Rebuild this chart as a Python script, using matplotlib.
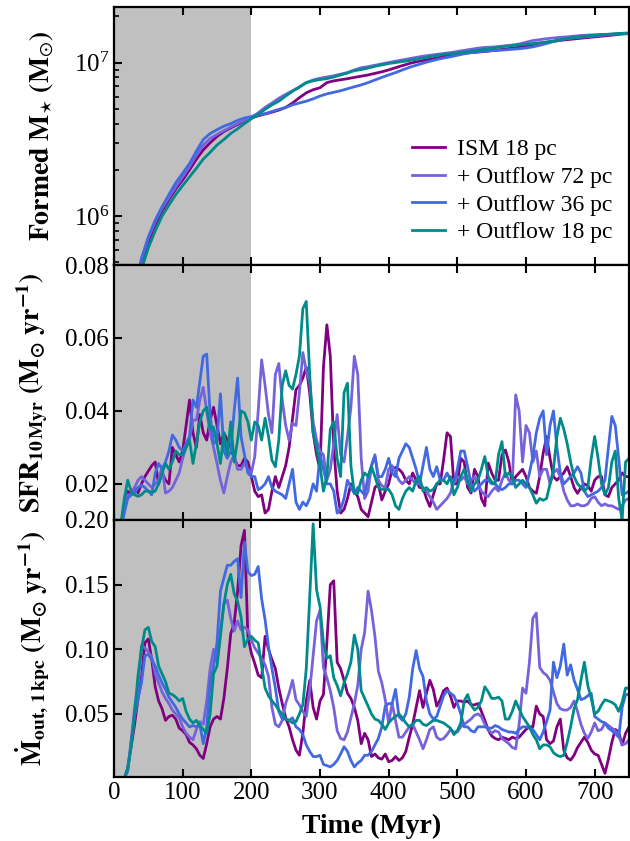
import numpy as np
import matplotlib
matplotlib.use("Agg")
import matplotlib.pyplot as plt
from matplotlib.ticker import NullFormatter, FormatStrFormatter, LogLocator

plt.rcParams['font.family'] = 'serif'
plt.rcParams['font.serif'] = ['Liberation Serif', 'DejaVu Serif']
plt.rcParams['mathtext.fontset'] = 'stix'

labels = ['ISM 18 pc', '+ Outflow 72 pc', '+ Outflow 36 pc', '+ Outflow 18 pc']
colors = ['#800080', '#7662DA', '#4169E1', '#008B8B']

# ---- time grids (Myr)
time_mass = np.arange(30, 751, 10)
time = np.arange(10, 751, 5)

# ---- Formed stellar mass (units of 1e6 Msun)
mass_ism18 = [0.32, 0.50, 0.68, 0.88, 1.08, 1.28, 1.50, 1.72, 2.00, 2.35,
              2.70, 3.00, 3.30, 3.55, 3.75, 3.95, 4.15, 4.35, 4.50, 4.62,
              4.75, 4.90, 5.10, 5.45, 5.90, 6.35, 6.65, 6.85, 7.40, 7.60,
              7.72, 7.85, 8.00, 8.15, 8.30, 8.50, 8.70, 8.95, 9.25, 9.55,
              9.85, 10.1, 10.3, 10.5, 10.7, 10.95, 11.2, 11.35, 11.5, 11.6,
              11.7, 11.8, 11.95, 12.1, 12.25, 12.4, 12.6, 12.85, 13.1, 13.3,
              13.55, 13.75, 13.95, 14.1, 14.25, 14.4, 14.55, 14.7, 14.85, 15.0,
              15.15, 15.35, 15.5]
mass_out72 = [0.33, 0.52, 0.72, 0.92, 1.12, 1.32, 1.55, 1.80, 2.10, 2.50,
              2.90, 3.20, 3.40, 3.60, 3.80, 4.00, 4.20, 4.40, 4.70, 5.10,
              5.45, 5.85, 6.20, 6.55, 6.95, 7.40, 7.70, 7.90, 8.05, 8.20,
              8.40, 8.60, 8.95, 9.25, 9.40, 9.60, 9.80, 10.0, 10.2, 10.4,
              10.6, 10.8, 11.0, 11.15, 11.3, 11.45, 11.6, 11.8, 12.0, 12.2,
              12.4, 12.55, 12.6, 12.7, 12.85, 13.0, 13.2, 13.55, 13.9, 14.1,
              14.3, 14.45, 14.6, 14.7, 14.85, 15.0, 15.1, 15.15, 15.2, 15.25,
              15.3, 15.35, 15.4]
mass_out36 = [0.34, 0.53, 0.73, 0.94, 1.15, 1.38, 1.65, 1.90, 2.20, 2.65,
              3.15, 3.45, 3.65, 3.85, 4.00, 4.20, 4.35, 4.45, 4.55, 4.65,
              4.80, 4.95, 5.10, 5.30, 5.45, 5.60, 5.80, 6.05, 6.25, 6.40,
              6.55, 6.75, 6.95, 7.15, 7.40, 7.70, 8.00, 8.30, 8.60, 8.95,
              9.30, 9.60, 9.90, 10.2, 10.45, 10.7, 10.9, 11.15, 11.4, 11.6,
              11.75, 11.85, 11.95, 12.0, 12.1, 12.2, 12.3, 12.45, 12.65, 12.95,
              13.3, 13.7, 14.0, 14.3, 14.45, 14.6, 14.75, 14.9, 15.05, 15.2,
              15.35, 15.45, 15.5]
mass_out18 = [0.28, 0.45, 0.62, 0.80, 1.00, 1.18, 1.38, 1.58, 1.80, 2.05,
              2.35, 2.60, 2.90, 3.15, 3.45, 3.70, 4.00, 4.30, 4.60, 4.95,
              5.30, 5.60, 6.05, 6.50, 6.90, 7.40, 7.60, 7.75, 7.85, 8.05,
              8.30, 8.55, 8.85, 9.00, 9.20, 9.45, 9.65, 9.85, 10.0, 10.15,
              10.3, 10.5, 10.7, 10.9, 11.1, 11.3, 11.4, 11.5, 11.7, 11.85,
              12.0, 12.2, 12.35, 12.6, 12.75, 12.9, 13.0, 13.15, 13.3, 13.45,
              13.6, 13.8, 14.1, 14.4, 14.6, 14.75, 14.9, 15.1, 15.2, 15.3,
              15.4, 15.5, 15.6]

# ---- SFR over 10 Myr (Msun/yr)
sfr_ism18 = [0.008, 0.013, 0.018, 0.017, 0.019, 0.0175, 0.020, 0.022, 0.0235, 0.025,
             0.026, 0.020, 0.023, 0.021, 0.020, 0.030, 0.028, 0.026, 0.029, 0.036,
             0.043, 0.034, 0.030, 0.039, 0.034, 0.032, 0.0375, 0.041, 0.036, 0.031,
             0.034, 0.032, 0.030, 0.027, 0.025, 0.025, 0.027, 0.026, 0.022, 0.018,
             0.0165, 0.017, 0.012, 0.013, 0.018, 0.022, 0.019, 0.022, 0.025, 0.030,
             0.038, 0.0458, 0.047, 0.049, 0.052, 0.045, 0.034, 0.028, 0.024, 0.052,
             0.0636, 0.055, 0.030, 0.018, 0.012, 0.013, 0.016, 0.020, 0.018, 0.0165,
             0.013, 0.012, 0.011, 0.015, 0.019, 0.020, 0.0156, 0.018, 0.020, 0.024,
             0.0245, 0.024, 0.023, 0.021, 0.020, 0.023, 0.021, 0.019, 0.019, 0.016,
             0.0138, 0.017, 0.020, 0.020, 0.0266, 0.034, 0.033, 0.020, 0.020, 0.027,
             0.026, 0.019, 0.0175, 0.024, 0.022, 0.016, 0.014, 0.0257, 0.023, 0.021,
             0.021, 0.028, 0.0293, 0.026, 0.020, 0.022, 0.023, 0.024, 0.022, 0.019,
             0.018, 0.0174, 0.022, 0.0284, 0.033, 0.027, 0.022, 0.021, 0.022, 0.023,
             0.0247, 0.022, 0.019, 0.0174, 0.019, 0.020, 0.0195, 0.018, 0.021, 0.022,
             0.022, 0.017, 0.0165, 0.019, 0.020, 0.021, 0.023, 0.022, 0.022]
sfr_out72 = [0.008, 0.013, 0.017, 0.017, 0.019, 0.021, 0.022, 0.021, 0.020, 0.019,
             0.020, 0.021, 0.0247, 0.0175, 0.018, 0.019, 0.021, 0.023, 0.027, 0.030,
             0.032, 0.0375, 0.0375, 0.043, 0.0465, 0.040, 0.034, 0.030, 0.0256, 0.021,
             0.0175, 0.022, 0.026, 0.028, 0.024, 0.024, 0.0256, 0.024, 0.023, 0.0275,
             0.040, 0.054, 0.047, 0.039, 0.034, 0.050, 0.053, 0.043, 0.036, 0.032,
             0.0366, 0.036, 0.045, 0.056, 0.051, 0.048, 0.037, 0.032, 0.029, 0.028,
             0.021, 0.024, 0.031, 0.039, 0.028, 0.026, 0.033, 0.041, 0.055, 0.050,
             0.027, 0.016, 0.018, 0.025, 0.028, 0.021, 0.0195, 0.019, 0.024, 0.025,
             0.023, 0.021, 0.020, 0.021, 0.022, 0.021, 0.020, 0.020, 0.019, 0.018,
             0.0165, 0.015, 0.013, 0.014, 0.015, 0.016, 0.0175, 0.021, 0.022, 0.021,
             0.022, 0.020, 0.021, 0.022, 0.020, 0.018, 0.017, 0.0165, 0.018, 0.019,
             0.018, 0.021, 0.023, 0.021, 0.020, 0.0444, 0.040, 0.026, 0.036, 0.034,
             0.026, 0.029, 0.022, 0.024, 0.024, 0.020, 0.023, 0.024, 0.022, 0.018,
             0.0156, 0.014, 0.014, 0.0145, 0.014, 0.014, 0.0145, 0.016, 0.0165, 0.015,
             0.014, 0.0145, 0.014, 0.014, 0.0135, 0.013, 0.014, 0.0156, 0.016]
sfr_out36 = [0.008, 0.012, 0.016, 0.017, 0.0175, 0.019, 0.0197, 0.019, 0.018, 0.017,
             0.023, 0.0256, 0.024, 0.026, 0.029, 0.0334, 0.032, 0.030, 0.029, 0.031,
             0.033, 0.043, 0.041, 0.048, 0.055, 0.0556, 0.039, 0.031, 0.032, 0.0447,
             0.029, 0.027, 0.029, 0.040, 0.049, 0.033, 0.028, 0.023, 0.022, 0.022,
             0.0184, 0.019, 0.020, 0.022, 0.019, 0.018, 0.0175, 0.017, 0.016, 0.020,
             0.024, 0.015, 0.013, 0.015, 0.014, 0.016, 0.020, 0.018, 0.028, 0.024,
             0.020, 0.020, 0.018, 0.012, 0.013, 0.016, 0.021, 0.019, 0.0174, 0.019,
             0.018, 0.017, 0.022, 0.025, 0.0275, 0.022, 0.022, 0.024, 0.027, 0.023,
             0.022, 0.027, 0.029, 0.031, 0.030, 0.027, 0.024, 0.020, 0.025, 0.030,
             0.024, 0.022, 0.0247, 0.021, 0.021, 0.023, 0.021, 0.020, 0.024, 0.029,
             0.029, 0.0247, 0.020, 0.018, 0.019, 0.020, 0.021, 0.021, 0.020, 0.020,
             0.019, 0.0184, 0.019, 0.020, 0.020, 0.021, 0.021, 0.020, 0.019, 0.023,
             0.0275, 0.034, 0.038, 0.040, 0.028, 0.036, 0.040, 0.030, 0.023, 0.020,
             0.021, 0.022, 0.023, 0.0247, 0.023, 0.018, 0.0165, 0.017, 0.0175, 0.018,
             0.019, 0.021, 0.030, 0.0385, 0.036, 0.027, 0.017, 0.0174, 0.018]
sfr_out18 = [0.009, 0.016, 0.021, 0.018, 0.017, 0.0166, 0.017, 0.018, 0.018, 0.0177,
             0.018, 0.020, 0.023, 0.0256, 0.024, 0.026, 0.029, 0.028, 0.028, 0.030,
             0.032, 0.0256, 0.031, 0.037, 0.040, 0.041, 0.035, 0.0356, 0.031, 0.0256,
             0.034, 0.028, 0.037, 0.026, 0.032, 0.040, 0.0395, 0.037, 0.032, 0.037,
             0.036, 0.032, 0.038, 0.033, 0.0265, 0.0247, 0.032, 0.047, 0.051, 0.047,
             0.046, 0.050, 0.055, 0.068, 0.070, 0.050, 0.034, 0.030, 0.025, 0.018,
             0.022, 0.035, 0.037, 0.027, 0.022, 0.045, 0.0476, 0.025, 0.0174, 0.0174,
             0.021, 0.023, 0.022, 0.0247, 0.022, 0.019, 0.0185, 0.0185, 0.0185, 0.017,
             0.014, 0.013, 0.016, 0.018, 0.019, 0.018, 0.021, 0.022, 0.018, 0.019,
             0.018, 0.0185, 0.020, 0.021, 0.021, 0.020, 0.022, 0.017, 0.019, 0.022,
             0.024, 0.021, 0.018, 0.020, 0.021, 0.024, 0.0275, 0.022, 0.0205, 0.020,
             0.028, 0.0316, 0.022, 0.023, 0.022, 0.019, 0.020, 0.021, 0.020, 0.019,
             0.017, 0.0147, 0.016, 0.0155, 0.016, 0.020, 0.024, 0.033, 0.038, 0.035,
             0.031, 0.026, 0.022, 0.020, 0.019, 0.018, 0.019, 0.027, 0.033, 0.027,
             0.020, 0.017, 0.019, 0.026, 0.029, 0.016, 0.010, 0.026, 0.027]

# ---- Outflow rate at 1 kpc (Msun/yr)
mout_ism18 = [0.0, 0.0, 0.008, 0.025, 0.042, 0.062, 0.078, 0.105, 0.108, 0.092,
              0.071, 0.060, 0.054, 0.045, 0.048, 0.049, 0.046, 0.039, 0.037, 0.034,
              0.028, 0.026, 0.023, 0.018, 0.0155, 0.027, 0.040, 0.046, 0.048, 0.046,
              0.062, 0.085, 0.112, 0.120, 0.145, 0.180, 0.192, 0.110, 0.097, 0.089,
              0.080, 0.078, 0.110, 0.100, 0.092, 0.085, 0.070, 0.058, 0.047, 0.040,
              0.030, 0.022, 0.018, 0.035, 0.060, 0.076, 0.055, 0.046, 0.060, 0.065,
              0.105, 0.150, 0.153, 0.090, 0.085, 0.076, 0.066, 0.062, 0.055, 0.045,
              0.027, 0.035, 0.030, 0.017, 0.019, 0.016, 0.015, 0.019, 0.013, 0.014,
              0.017, 0.014, 0.016, 0.021, 0.032, 0.042, 0.055, 0.068, 0.055, 0.066,
              0.076, 0.069, 0.056, 0.061, 0.068, 0.070, 0.064, 0.055, 0.060, 0.060,
              0.059, 0.060, 0.057, 0.057, 0.058, 0.052, 0.045, 0.0376, 0.033, 0.031,
              0.030, 0.032, 0.031, 0.030, 0.032, 0.031, 0.032, 0.035, 0.038, 0.040,
              0.040, 0.056, 0.050, 0.048, 0.030, 0.027, 0.029, 0.040, 0.046, 0.022,
              0.016, 0.0143, 0.018, 0.024, 0.028, 0.032, 0.028, 0.022, 0.019, 0.018,
              0.011, 0.004, 0.015, 0.028, 0.038, 0.036, 0.026, 0.035, 0.040]
mout_out72 = [0.0, 0.0, 0.006, 0.030, 0.055, 0.073, 0.103, 0.101, 0.098, 0.094,
              0.081, 0.074, 0.067, 0.062, 0.058, 0.053, 0.050, 0.047, 0.040, 0.035,
              0.032, 0.030, 0.038, 0.044, 0.042, 0.060, 0.085, 0.100, 0.090, 0.115,
              0.135, 0.138, 0.124, 0.114, 0.122, 0.115, 0.117, 0.115, 0.107, 0.101,
              0.097, 0.093, 0.088, 0.079, 0.055, 0.042, 0.040, 0.045, 0.058, 0.066,
              0.076, 0.061, 0.057, 0.052, 0.048, 0.068, 0.095, 0.122, 0.130, 0.086,
              0.078, 0.068, 0.055, 0.037, 0.031, 0.030, 0.036, 0.047, 0.058, 0.072,
              0.100, 0.113, 0.145, 0.130, 0.110, 0.083, 0.074, 0.061, 0.043, 0.058,
              0.045, 0.032, 0.032, 0.036, 0.040, 0.042, 0.036, 0.030, 0.023, 0.030,
              0.038, 0.040, 0.032, 0.030, 0.031, 0.034, 0.038, 0.036, 0.036, 0.040,
              0.042, 0.044, 0.046, 0.049, 0.050, 0.048, 0.042, 0.038, 0.035, 0.037,
              0.036, 0.031, 0.029, 0.027, 0.024, 0.023, 0.042, 0.070, 0.066, 0.090,
              0.124, 0.128, 0.086, 0.082, 0.080, 0.076, 0.067, 0.058, 0.054, 0.053,
              0.053, 0.055, 0.060, 0.052, 0.042, 0.035, 0.031, 0.036, 0.043, 0.037,
              0.038, 0.043, 0.041, 0.039, 0.037, 0.033, 0.026, 0.027, 0.030]
mout_out36 = [0.0, 0.0, 0.006, 0.028, 0.048, 0.062, 0.074, 0.095, 0.096, 0.092,
              0.087, 0.080, 0.074, 0.069, 0.063, 0.059, 0.055, 0.050, 0.046, 0.043,
              0.040, 0.041, 0.040, 0.042, 0.027, 0.040, 0.074, 0.087, 0.105, 0.145,
              0.155, 0.165, 0.165, 0.168, 0.170, 0.140, 0.183, 0.160, 0.157, 0.158,
              0.164, 0.139, 0.123, 0.102, 0.085, 0.070, 0.052, 0.046, 0.046, 0.045,
              0.047, 0.040, 0.038, 0.034, 0.026, 0.021, 0.017, 0.017, 0.018, 0.011,
              0.010, 0.009, 0.011, 0.014, 0.019, 0.0246, 0.021, 0.014, 0.009, 0.012,
              0.014, 0.018, 0.018, 0.021, 0.026, 0.031, 0.040, 0.056, 0.058, 0.058,
              0.069, 0.048, 0.045, 0.050, 0.063, 0.085, 0.099, 0.085, 0.079, 0.060,
              0.050, 0.046, 0.048, 0.056, 0.064, 0.068, 0.066, 0.064, 0.058, 0.050,
              0.040, 0.040, 0.037, 0.036, 0.040, 0.040, 0.040, 0.039, 0.039, 0.041,
              0.040, 0.038, 0.037, 0.036, 0.036, 0.035, 0.038, 0.040, 0.040, 0.039,
              0.038, 0.034, 0.030, 0.036, 0.044, 0.053, 0.090, 0.078, 0.087, 0.104,
              0.080, 0.088, 0.076, 0.069, 0.061, 0.062, 0.064, 0.066, 0.048, 0.046,
              0.044, 0.043, 0.039, 0.037, 0.035, 0.032, 0.055, 0.065, 0.065]
mout_out18 = [0.0, 0.0, 0.008, 0.025, 0.050, 0.080, 0.100, 0.115, 0.117, 0.106,
              0.102, 0.087, 0.081, 0.075, 0.066, 0.065, 0.063, 0.060, 0.062, 0.052,
              0.046, 0.043, 0.045, 0.041, 0.038, 0.035, 0.050, 0.081, 0.087, 0.110,
              0.135, 0.150, 0.158, 0.143, 0.137, 0.125, 0.102, 0.108, 0.110, 0.107,
              0.105, 0.087, 0.070, 0.064, 0.060, 0.057, 0.053, 0.050, 0.046, 0.045,
              0.043, 0.044, 0.050, 0.057, 0.085, 0.140, 0.197, 0.146, 0.133, 0.105,
              0.093, 0.095, 0.078, 0.072, 0.064, 0.074, 0.081, 0.090, 0.111, 0.100,
              0.068, 0.062, 0.056, 0.050, 0.046, 0.045, 0.042, 0.038, 0.043, 0.046,
              0.048, 0.050, 0.047, 0.043, 0.040, 0.042, 0.045, 0.045, 0.042, 0.041,
              0.043, 0.045, 0.045, 0.044, 0.043, 0.041, 0.039, 0.034, 0.037, 0.043,
              0.060, 0.065, 0.057, 0.053, 0.055, 0.060, 0.071, 0.067, 0.062, 0.062,
              0.063, 0.060, 0.046, 0.046, 0.052, 0.060, 0.054, 0.048, 0.044, 0.040,
              0.034, 0.030, 0.023, 0.026, 0.026, 0.0246, 0.020, 0.018, 0.017, 0.018,
              0.028, 0.040, 0.054, 0.061, 0.076, 0.090, 0.072, 0.062, 0.050, 0.052,
              0.057, 0.061, 0.060, 0.059, 0.057, 0.052, 0.059, 0.070, 0.070]

mass_series = [mass_ism18, mass_out72, mass_out36, mass_out18]
sfr_series = [sfr_ism18, sfr_out72, sfr_out36, sfr_out18]
mout_series = [mout_ism18, mout_out72, mout_out36, mout_out18]

W, H = 630, 841
fig = plt.figure(figsize=(W / 100, H / 100), dpi=100)
left = 114 / W
width = (629 - 114) / W

def box(top_px, bot_px):
    return [left, 1 - bot_px / H, width, (bot_px - top_px) / H]

ax1 = fig.add_axes(box(7, 265))
ax2 = fig.add_axes(box(265, 520), sharex=ax1)
ax3 = fig.add_axes(box(520, 777), sharex=ax1)

lw = 2.0
tick_fs = 18
for ax in (ax1, ax2, ax3):
    ax.axvspan(0, 200, color='#c0c0c0', lw=0, zorder=0)
    for s in ax.spines.values():
        s.set_linewidth(1.6)
    ax.tick_params(axis='both', which='major', direction='in', top=True, right=False,
                   length=6, width=1.5, labelsize=tick_fs)
    ax.tick_params(axis='both', which='minor', direction='in', top=True, right=False,
                   length=3.5, width=1.2)

for vals, c, lab in zip(mass_series, colors, labels):
    ax1.plot(time_mass, np.array(vals) * 1e6, color=c, lw=lw, label=lab)
for vals, c in zip(sfr_series, colors):
    ax2.plot(time, vals, color=c, lw=lw)
for vals, c in zip(mout_series, colors):
    ax3.plot(time, vals, color=c, lw=lw)

ax1.set_xlim(0, 750)
ax1.set_yscale('log')
ax1.set_ylim(4.8e5, 2.3e7)
ax1.yaxis.set_major_locator(LogLocator(base=10, numticks=10))
ax1.yaxis.set_minor_locator(LogLocator(base=10, subs=np.arange(2, 10), numticks=20))
ax1.yaxis.set_minor_formatter(NullFormatter())
ax1.tick_params(axis='x', which='minor', top=False, bottom=False)

ax2.set_ylim(0.0101, 0.08)
ax2.set_yticks([0.02, 0.04, 0.06, 0.08])
ax2.yaxis.set_major_formatter(FormatStrFormatter('%.2f'))

ax3.set_ylim(0.0012, 0.2)
ax3.set_yticks([0.05, 0.10, 0.15, 0.20])
ax3.yaxis.set_major_formatter(FormatStrFormatter('%.2f'))
ax3.set_xticks(np.arange(0, 701, 100))

plt.setp(ax1.get_xticklabels(), visible=False)
plt.setp(ax2.get_xticklabels(), visible=False)

lab_fs = 20
ax1.set_ylabel(r'$\mathbf{Formed\ M}_{\star}\ \mathbf{(M}_{\odot}\mathbf{)}$', fontsize=lab_fs)
ax2.set_ylabel(r'$\mathbf{SFR_{10\,Myr}\ (M_{\odot}\ yr^{-1})}$', fontsize=lab_fs)
ax3.set_ylabel(r'$\mathbf{\dot{M}_{out,\,1\,kpc}\ (M_{\odot}\ yr^{-1})}$', fontsize=lab_fs)
ax1.yaxis.set_label_coords(-0.112, 0.5)
ax2.yaxis.set_label_coords(-0.125, 0.5)
ax3.yaxis.set_label_coords(-0.12, 0.5)
ax3.set_xlabel('Time (Myr)', fontsize=lab_fs, fontweight='bold', labelpad=7)

leg = ax1.legend(loc='lower right', bbox_to_anchor=(1.0, 0.02), frameon=False,
                 fontsize=17, handlelength=1.4, handletextpad=0.5, labelspacing=0.26,
                 borderaxespad=0.3)

fig.savefig('out.png', dpi=100)
